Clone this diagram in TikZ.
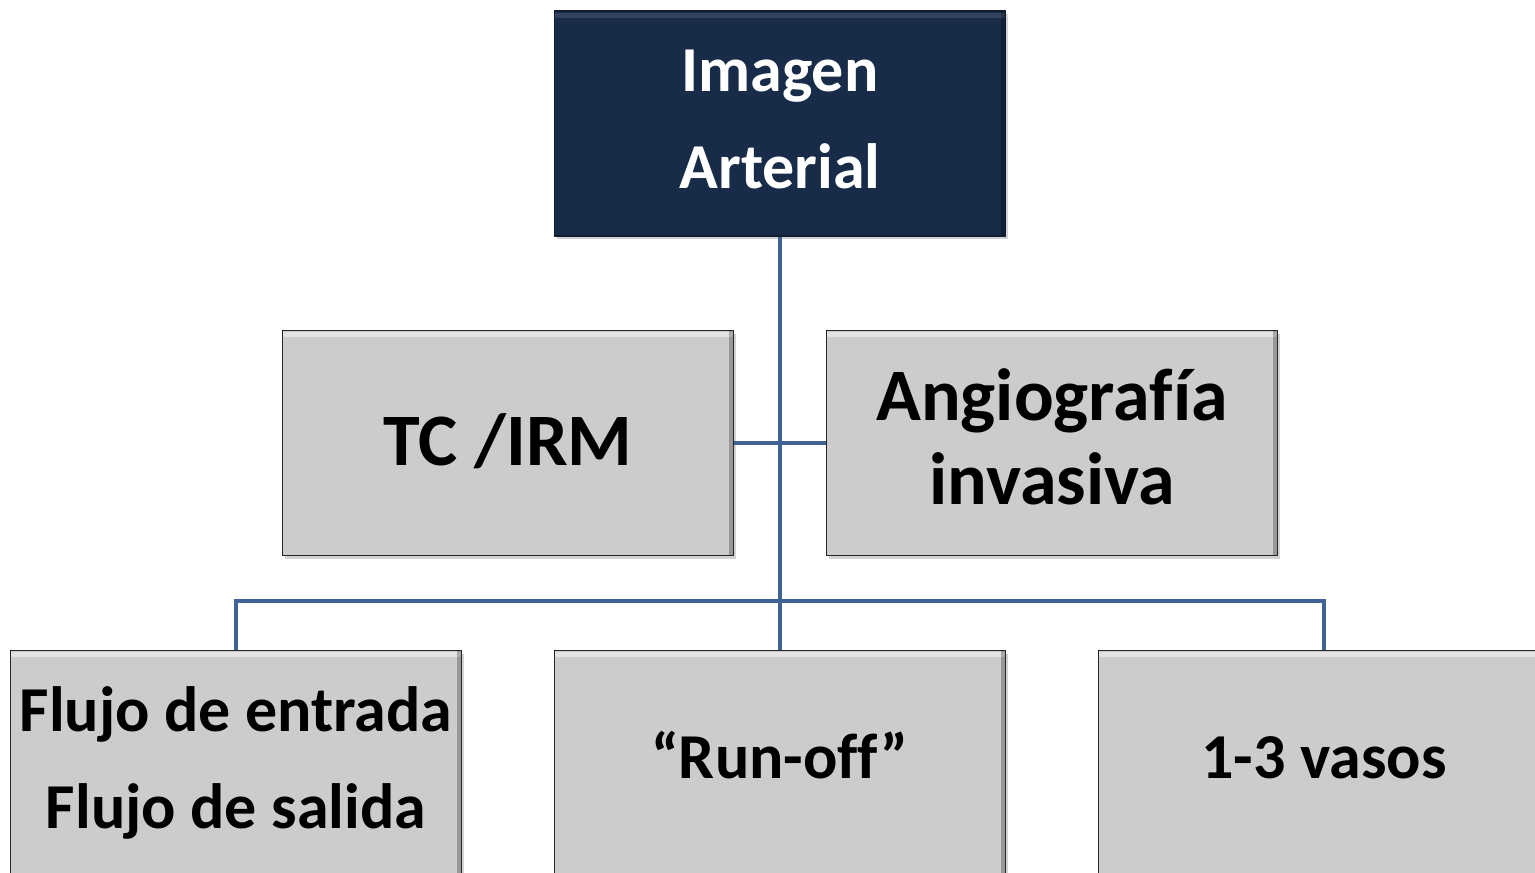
\documentclass[tikz,border=0pt]{standalone}
\usepackage{fontspec}
\setmainfont[Ligatures=NoCommon]{Carlito}
\usetikzlibrary{shadows}
\definecolor{navy}{RGB}{24,43,72}
\definecolor{boxgray}{RGB}{204,204,204}
\definecolor{linkblue}{RGB}{62,99,148}
\newcommand{\lift}[1]{\rule[-#1]{0pt}{#1}}
\begin{document}
\begin{tikzpicture}[x=1pt,y=-1pt,
  bevel/.style={path picture={
      \draw[white,opacity=#1,line width=5pt]
        ([yshift=-4pt]path picture bounding box.north west) --
        ([yshift=-4pt]path picture bounding box.north east);
      \draw[black,opacity=0.25,line width=4pt]
        ([xshift=-3pt]path picture bounding box.north east) --
        ([xshift=-3pt]path picture bounding box.south east);
    }},
  box/.style={draw=black!85,line width=1.5pt,fill=boxgray,bevel=0.45,
    drop shadow={shadow xshift=2pt,shadow yshift=-3pt,opacity=0.35},
    minimum width=451pt,minimum height=225pt,inner sep=0pt,align=center,
    font=\bfseries\fontsize{64}{97}\selectfont},
  topbox/.style={box,fill=navy,draw=navy!70!black,text=white,bevel=0.12},
  midbox/.style={box,font=\bfseries\fontsize{74}{84}\selectfont},
  link/.style={draw=linkblue,line width=4pt}]
\useasboundingbox (0,0) rectangle (1535,873);
\clip (0,0) rectangle (1535,873);
% top level
\node[topbox] (img) at (780,123.5) {Imagen\\Arterial\lift{8pt}};
% modalities
\node[midbox,text height=60pt,text depth=16pt] (tc) at (508,443) {TC /IRM};
\node[midbox] (angio) at (1052,443) {Angiografía\\invasiva\lift{12pt}};
% targets
\node[box] (flujo) at (236,763) {Flujo de entrada\\Flujo de salida};
\node[box,text height=50pt,text depth=19pt] (run) at (780,763) {“Run-off”};
\node[box,text height=50pt,text depth=19pt] (vasos) at (1324,763) {1-3 vasos};
% connectors
\coordinate (bus) at (780,601);
\begin{scope}[on background layer/.try]
\draw[link] (img.south) -- (run.north);
\draw[link] (tc.east) -- (angio.west);
\draw[link] (flujo.north) |- (bus) -| (vasos.north);
\end{scope}
\end{tikzpicture}
\end{document}
